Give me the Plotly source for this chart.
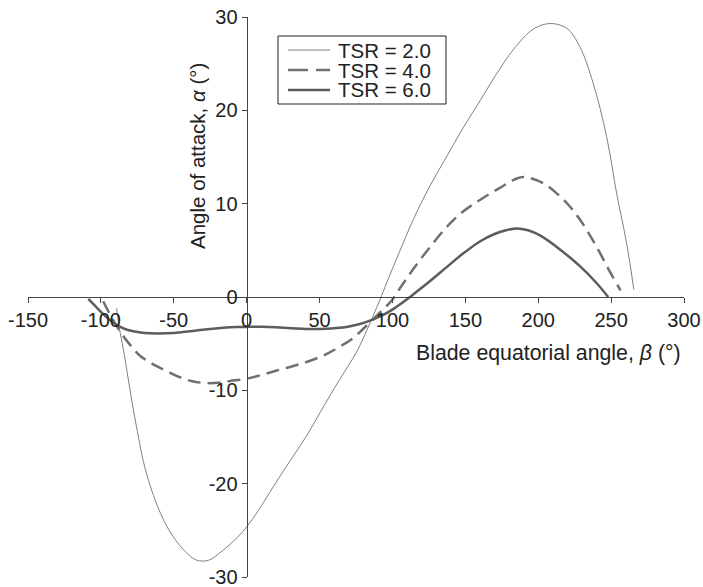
import plotly.graph_objects as go

beta_tsr2 = [-89.2, -87.5, -84.6, -81, -77.8, -74, -70.9, -66, -61.7, -56, -50.3, -42, -34.3, -26, -18.3, -10, -3, 4, 12, 20, 30, 41, 50.3, 57, 64, 70, 75.4, 80, 84.6, 91.4, 96, 105, 114.3, 125, 137, 148, 160, 171, 182.9, 196.6, 208, 219.5, 228.6, 237.7, 246.9, 253.8, 260.6, 265.6]
alpha_tsr2 = [-1.2, -3.2, -5.6, -9.0, -12.0, -15.2, -17.6, -20.3, -22.2, -24.2, -25.7, -27.3, -28.2, -28.2, -27.4, -26.3, -25.2, -23.8, -21.9, -19.9, -17.5, -14.9, -12.4, -10.6, -8.8, -7.3, -5.9, -4.4, -2.8, -0.3, 1.5, 4.9, 8.3, 11.7, 15.0, 18.0, 21.0, 23.8, 26.5, 28.7, 29.3, 28.8, 26.8, 22.9, 17.2, 11.1, 5.8, 0.8]

beta_tsr4 = [-98.4, -95, -91.5, -88, -84.6, -79, -73.2, -67.5, -61.7, -54, -45.7, -38, -29.8, -20, -11.5, -1.2, 9.1, 20, 32, 44, 54.9, 64, 73.1, 80, 86, 93, 99.4, 106.3, 114.3, 125, 137.2, 148, 160, 173.7, 185.2, 190, 194.3, 203.4, 214.9, 221.7, 228.6, 235.5, 242.4, 249.2, 254.9, 256.5]
alpha_tsr4 = [-0.45, -1.5, -2.5, -3.4, -4.2, -5.3, -6.3, -6.9, -7.4, -8.0, -8.6, -9.0, -9.2, -9.2, -9.0, -8.8, -8.4, -7.9, -7.4, -6.8, -6.1, -5.3, -4.4, -3.4, -2.5, -1.4, -0.4, 1.2, 3.0, 5.2, 7.5, 9.1, 10.4, 11.7, 12.7, 12.85, 12.75, 12.2, 10.8, 9.7, 8.3, 6.6, 4.7, 2.7, 1.15, 0.7]

beta_tsr6 = [-108.6, -104, -100, -94, -88, -83, -77.8, -70, -61.7, -50, -38.9, -27, -16, -7, 1, 10, 20, 30, 40, 50.3, 64, 72, 77.7, 86.8, 94, 100.5, 107, 112, 125, 137.2, 148, 160, 170, 178, 185, 193, 201.2, 214.9, 228.6, 240, 248]
alpha_tsr6 = [-0.2, -0.95, -1.6, -2.45, -3.1, -3.45, -3.66, -3.85, -3.9, -3.85, -3.66, -3.45, -3.3, -3.22, -3.2, -3.2, -3.25, -3.35, -3.42, -3.42, -3.3, -3.1, -2.9, -2.4, -1.9, -1.3, -0.6, 0.0, 1.6, 3.2, 4.6, 5.95, 6.75, 7.15, 7.35, 7.15, 6.6, 5.1, 3.3, 1.5, 0.0]

legend_names = ["TSR = 2.0", "TSR = 4.0", "TSR = 6.0"]
x_ticks = [-150, -100, -50, 0, 50, 100, 150, 200, 250, 300]
y_ticks = [-30, -20, -10, 0, 10, 20, 30]
x_ticktext = [str(v) for v in x_ticks]
y_ticktext = [str(v) for v in y_ticks]

FONT = "Liberation Sans, Arial, Helvetica, sans-serif"
W, H = 703, 587
ML, MR, MT, MB = 28, 19, 17, 10
PW, PH = W - ML - MR, H - MT - MB

def px_x(p):
    return (p - ML) / PW

def px_y(p):
    return (H - MB - p) / PH

colors = ["#808080", "#707070", "#5c5c5c"]
widths = [1, 2.5, 2.5]
dashes = ["solid", "13px,7px", "solid"]
series = [(beta_tsr2, alpha_tsr2), (beta_tsr4, alpha_tsr4), (beta_tsr6, alpha_tsr6)]

fig = go.Figure()
for (bx, ay), name, c, w, d in zip(series, legend_names, colors, widths, dashes):
    fig.add_trace(go.Scatter(x=bx, y=ay, mode="lines", name=name, showlegend=False,
                             line=dict(color=c, width=w, dash=d, shape="spline", smoothing=1.0)))

shapes = [dict(type="rect", xref="paper", yref="paper",
               x0=px_x(278), x1=px_x(446), y0=px_y(104), y1=px_y(36),
               line=dict(color="#222", width=1), fillcolor="white", layer="above")]
annotations = []
row_y = [50, 70, 90]
legend_dash = ["solid", "20px,8px", "solid"]
for name, c, w, d, ry in zip(legend_names, colors, widths, legend_dash, row_y):
    shapes.append(dict(type="line", xref="paper", yref="paper",
                       x0=px_x(288), x1=px_x(330), y0=px_y(ry), y1=px_y(ry),
                       line=dict(color=c, width=w, dash=d), layer="above"))
    annotations.append(dict(text=name, xref="paper", yref="paper", x=px_x(336), y=px_y(ry),
                            xanchor="left", yanchor="middle", showarrow=False,
                            font=dict(size=20.5, color="#222")))

annotations += [
    dict(text="Blade equatorial angle, <i>β</i> (°)", xref="paper", yref="paper",
         x=px_x(683), y=px_y(353), xanchor="right", yanchor="middle",
         showarrow=False, font=dict(size=21.3, color="#222")),
    dict(text="Angle of attack, <i>α</i> (°)", xref="paper", yref="paper",
         x=px_x(197), y=px_y(156), xanchor="center", yanchor="middle",
         textangle=-90, showarrow=False, font=dict(size=20.5, color="#222")),
]

fig.update_layout(
    width=W, height=H,
    margin=dict(l=ML, r=MR, t=MT, b=MB),
    paper_bgcolor="white", plot_bgcolor="white",
    font=dict(family=FONT, size=20, color="#222"),
    showlegend=False,
    shapes=shapes,
    annotations=annotations,
    xaxis=dict(range=[-150, 300], tickvals=x_ticks, ticktext=x_ticktext,
               showgrid=False, zeroline=False, automargin=False,
               showline=True, linecolor="#444", linewidth=1.2,
               ticks="outside", ticklen=5, tickcolor="#444",
               anchor="free", position=0.5, tickfont=dict(size=20),
               ticklabeloverflow="allow"),
    yaxis=dict(range=[-30, 30], tickvals=y_ticks, ticktext=y_ticktext,
               showgrid=False, zeroline=False, automargin=False,
               showline=True, linecolor="#444", linewidth=1.2,
               ticks="outside", ticklen=5, tickcolor="#444",
               anchor="free", position=1/3, tickfont=dict(size=20),
               ticklabeloverflow="allow"),
)

fig.write_html("out.html", config={"displayModeBar": False},
               post_script="document.body.style.margin='0';document.body.style.overflow='hidden';")
